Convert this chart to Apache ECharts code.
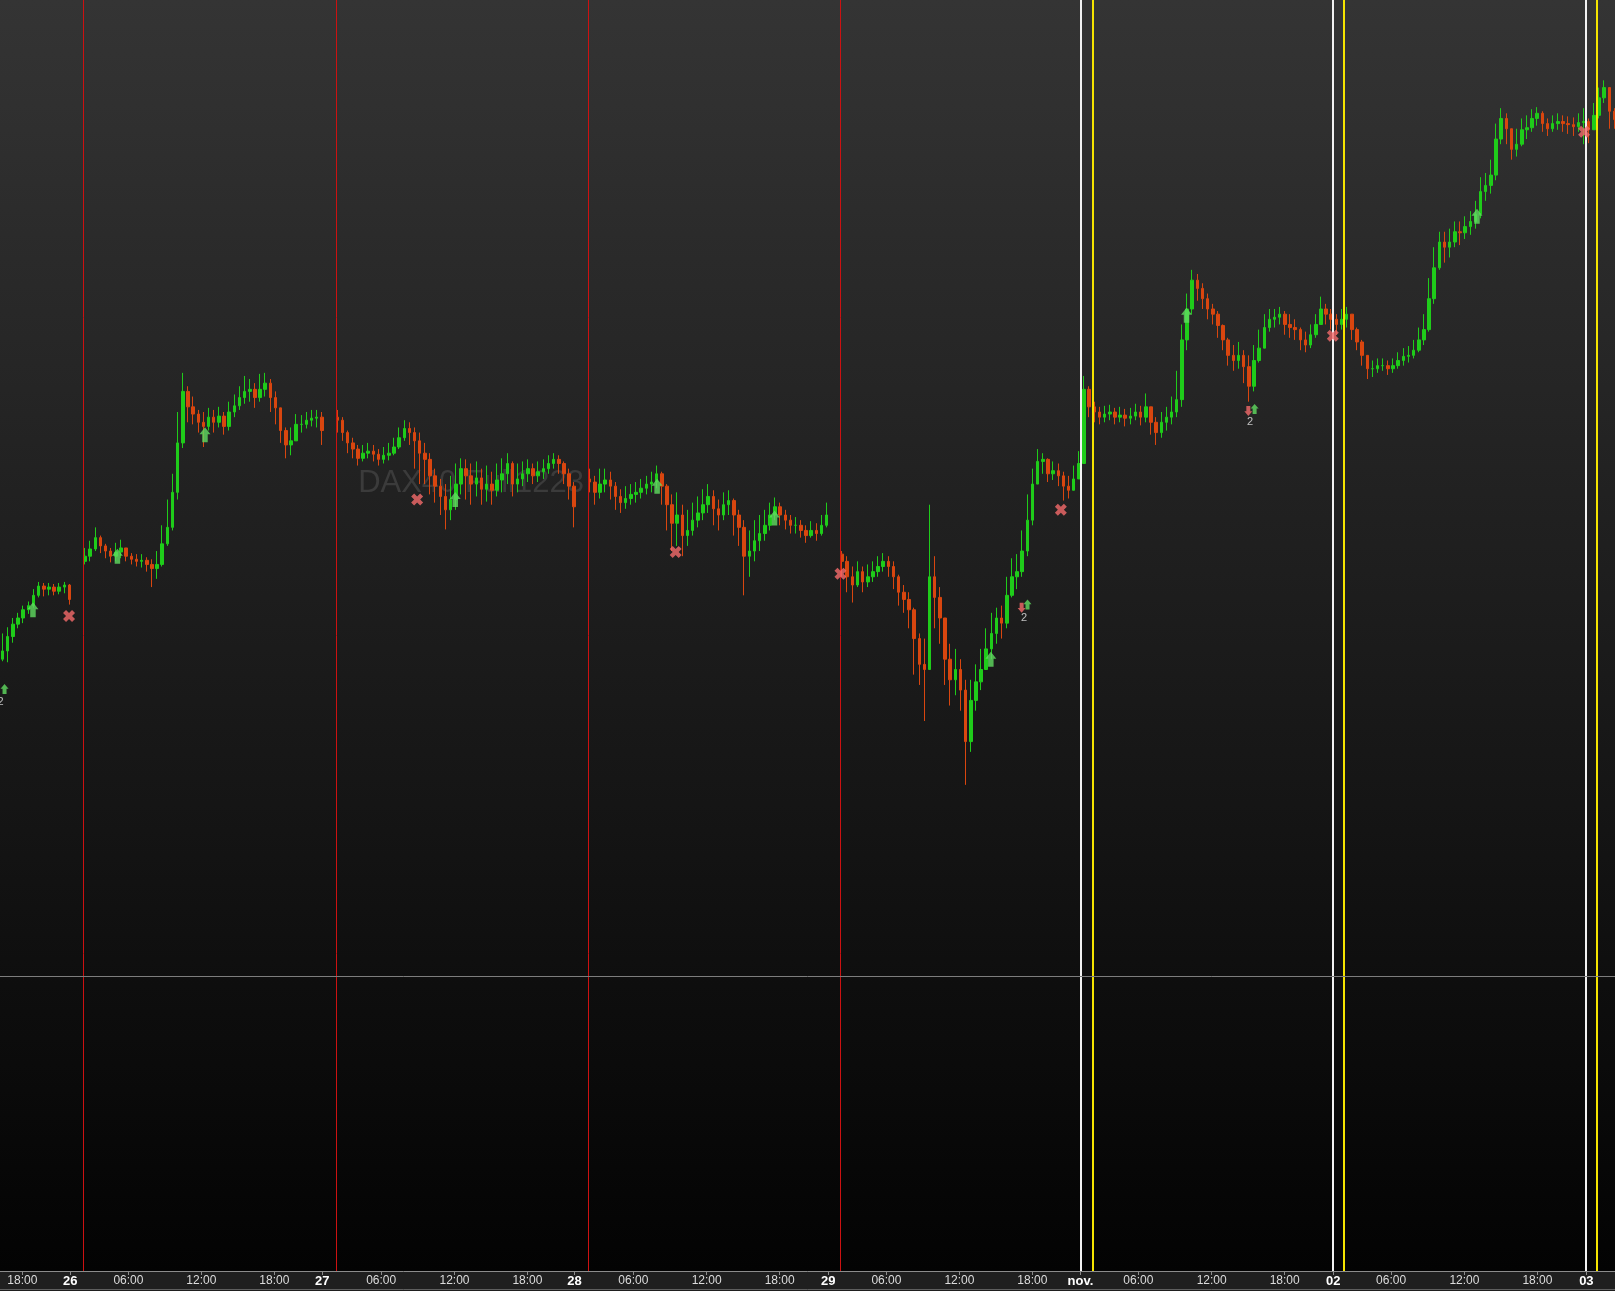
<!DOCTYPE html>
<html><head><meta charset="utf-8">
<script src="https://cdn.jsdelivr.net/npm/echarts@6/dist/echarts.min.js"></script>
<style>html,body{margin:0;padding:0;background:#000;}#c{width:1615px;height:1291px;}</style>
</head><body><div id="c"></div>
<script>
// ---- x axis: slot units (0..1568), each candle spans 5 slots ----
const slotWidth = 5;
const xMax = 1568;
const tickPos = [21.7, 68.2, 124.7, 195.5, 266.4, 312.9, 370.1, 441.3, 512.1, 557.7, 614.9, 686.1, 757, 804.1, 860.6, 931.5, 1002.3, 1049, 1105.2, 1176.4, 1247.3, 1294.5, 1350.6, 1421.8, 1492.7, 1540.2];
const tickLabels = ['18:00','26','06:00','12:00','18:00','27','06:00','12:00','18:00','28','06:00','12:00','18:00','29','06:00','12:00','18:00','nov.','06:00','12:00','18:00','02','06:00','12:00','18:00','03'];
const dayLabels = ['26','27','28','29','nov.','02','03'];

// ---- prices (open of each candle = previous close, except session opens) ----
const firstOpen = 15360;
const sessionOpens = [[16, 15455], [65, 15595], [114, 15535], [163, 15462]];
const close = [
 15368,15382,15394,15400,15408,15412,15422,15431,15428,15430,15426,15430,15432,15418,
 null,null,
 15460,15467,15478,15470,15465,15460,15464,15468,15460,15457,15455,15456,15452,15448,15452,15472,15488,15522,15570,15620,15605,15598,15590,15586,15595,15590,15596,15586,15600,15606,15614,15620,15622,15614,15622,15628,15614,15604,15582,15568,15572,15588,15588,15592,15594,15595,15582,
 null,null,
 15592,15580,15570,15564,15555,15560,15562,15559,15554,15558,15560,15566,15575,15584,15580,15572,15560,15554,15538,15528,15518,15505,15515,15530,15545,15538,15530,15536,15525,15530,15524,15534,15540,15550,15530,15535,15540,15545,15538,15542,15545,15550,15554,15550,15540,15528,15508,
 null,null,
 15532,15522,15530,15534,15528,15518,15512,15516,15520,15522,15526,15530,15532,15540,15528,15510,15492,15500,15480,15485,15495,15502,15510,15518,15506,15500,15510,15514,15500,15488,15460,15465,15475,15482,15490,15500,15508,15500,15495,15490,15490,15485,15480,15485,15482,15490,15500,
 null,null,
 15455,15440,15432,15445,15435,15440,15445,15450,15455,15450,15440,15425,15418,15408,15380,15355,15350,15440,15420,15400,15360,15340,15350,15330,15280,15320,15338,15350,15370,15385,15400,15395,15422,15440,15445,15465,15495,15530,15552,15554,15540,15543,15538,15528,15524,15535,15550,
 15622,15605,15600,15595,15598,15600,15595,15597,15594,15596,15600,15595,15605,15590,15580,15590,15595,15600,15612,15670,15700,15728,15720,15710,15700,15695,15684,15670,15655,15650,15655,15644,15625,15650,15662,15682,15690,15692,15695,15685,15682,15680,15670,15665,15675,15685,15700,15695,15690,
 15685,15690,15695,15680,15668,15655,15642,15642,15645,15645,15642,15645,15650,15654,15655,15660,15670,15680,15710,15740,15765,15760,15765,15775,15774,15780,15785,15792,15814,15820,15830,15865,15885,15875,15855,15860,15874,15876,15885,15890,15880,15875,15880,15882,15880,15879,15877,15881,15882,
 15874,15888,15905,15915,15892,15884
];
const high = [
 15385,15391,15400,15405,15412,15416,15428,15435,15434,15434,15433,15434,15435,15433,
 null,null,
 15468,15475,15488,15480,15472,15468,15473,15476,15468,15463,15462,15462,15459,15457,15465,15490,15515,15540,15600,15638,15625,15615,15602,15600,15604,15602,15605,15600,15610,15617,15625,15635,15632,15628,15637,15638,15632,15620,15602,15585,15585,15598,15597,15600,15602,15602,15600,
 null,null,
 15602,15595,15582,15575,15568,15568,15570,15568,15564,15566,15570,15575,15585,15592,15590,15585,15580,15570,15560,15545,15535,15530,15538,15550,15555,15554,15550,15552,15545,15548,15542,15550,15555,15560,15552,15550,15552,15554,15550,15552,15554,15558,15560,15558,15552,15545,15532,
 null,null,
 15545,15538,15545,15545,15542,15532,15525,15528,15530,15532,15535,15538,15542,15548,15542,15530,15520,15522,15510,15505,15512,15518,15525,15530,15524,15515,15522,15524,15516,15505,15495,15485,15495,15500,15505,15512,15517,15512,15505,15500,15498,15495,15490,15494,15492,15500,15512,
 null,null,
 15465,15460,15450,15455,15450,15452,15455,15460,15463,15460,15455,15442,15432,15425,15410,15385,15380,15510,15460,15430,15400,15375,15370,15360,15340,15340,15355,15370,15390,15405,15410,15412,15440,15458,15462,15485,15520,15545,15564,15560,15555,15552,15550,15542,15538,15548,15562,
 15635,15625,15610,15605,15606,15607,15604,15605,15603,15604,15608,15606,15618,15605,15595,15600,15605,15615,15640,15685,15715,15738,15734,15725,15715,15705,15698,15685,15672,15665,15668,15660,15655,15665,15680,15695,15700,15700,15702,15698,15695,15690,15682,15678,15685,15695,15712,15705,15700,
 15695,15700,15702,15695,15682,15670,15655,15650,15652,15652,15650,15652,15658,15662,15664,15670,15682,15695,15730,15760,15775,15775,15778,15785,15785,15790,15795,15805,15828,15832,15845,15880,15895,15890,15875,15875,15885,15888,15894,15896,15892,15885,15888,15890,15888,15887,15886,15890,15895,
 15885,15900,15915,15922,15912,15895
];
const low = [
 15358,15357,15376,15390,15395,15404,15410,15420,15421,15422,15422,15423,15424,15413,
 null,null,
 15452,15455,15465,15463,15458,15454,15455,15458,15455,15452,15450,15449,15445,15430,15438,15450,15470,15485,15515,15565,15590,15588,15580,15566,15582,15580,15585,15578,15582,15595,15602,15608,15610,15604,15610,15615,15600,15588,15570,15555,15558,15572,15580,15584,15586,15585,15568,
 null,null,
 15580,15572,15560,15555,15548,15552,15555,15552,15548,15550,15553,15558,15564,15572,15568,15545,15530,15530,15520,15512,15500,15486,15495,15505,15520,15515,15510,15518,15510,15513,15510,15518,15522,15530,15518,15522,15528,15532,15530,15532,15535,15540,15545,15540,15530,15515,15488,
 null,null,
 15522,15510,15516,15522,15515,15505,15502,15506,15510,15512,15516,15520,15522,15526,15510,15485,15465,15470,15460,15470,15480,15488,15495,15502,15490,15485,15495,15500,15480,15470,15422,15440,15455,15465,15475,15485,15495,15490,15486,15482,15482,15478,15473,15478,15475,15480,15488,
 null,null,
 15440,15425,15415,15430,15425,15430,15435,15440,15445,15440,15428,15412,15405,15390,15345,15335,15300,15380,15390,15375,15335,15315,15325,15310,15238,15270,15310,15330,15350,15360,15375,15380,15390,15420,15428,15440,15460,15490,15530,15540,15532,15534,15528,15514,15516,15524,15538,
 15560,15595,15590,15588,15590,15592,15588,15590,15586,15588,15592,15587,15590,15578,15568,15575,15582,15588,15595,15605,15660,15695,15708,15700,15690,15685,15672,15660,15645,15640,15642,15628,15610,15620,15648,15665,15678,15682,15685,15675,15672,15670,15660,15658,15662,15672,15685,15685,15680,
 15675,15680,15682,15670,15660,15645,15632,15634,15638,15640,15636,15638,15642,15645,15648,15652,15658,15665,15678,15705,15738,15745,15750,15760,15762,15768,15772,15778,15788,15805,15812,15825,15860,15860,15845,15848,15858,15865,15872,15878,15872,15868,15872,15874,15872,15870,15868,15872,15860,
 15861,15875,15885,15900,15875,15875
];

// ---- vertical session lines / horizontal level ----
const redLines = [81.0, 326.0, 571.1, 816.1];
const whiteLines = [1049.0, 1294.3, 1540.0];
const yellowLines = [1060.5, 1305.0, 1550.5];
const levelLine = 15052;

// ---- trade markers [slot, price] ----
const buyArrows = [[32,15408],[114,15460],[199,15578],[442,15515],[638,15528],[752,15497],[962,15360],[1152,15694],[1434,15790]];
const exitCrosses = [[67,15402],[405,15515],[656,15464],[816,15443],[1030,15505],[1294,15674],[1538,15872]];
const smallBuy = [[4.4,15331],[997.6,15413],[1218.1,15603]];
const smallSell = [[-2.2,15328],[991.9,15410],[1212,15601]];
const countLabels = [[0.6,15318,'2'],[994.2,15400,'2'],[1213.8,15590,'2']];

const watermark = 'DAX40 Full1223';

// ---- build candles ----
const openAt = {};
sessionOpens.forEach(s => { openAt[s[0]] = s[1]; });
const candles = [];
let prev = firstOpen;
for (let k = 0; k < close.length; k++) {
  if (close[k] == null) continue;
  const o = (openAt[k] != null) ? openAt[k] : prev, c = close[k];
  const h = Math.max(high[k], o, c), l = Math.min(low[k], o, c);
  candles.push([k * slotWidth + slotWidth / 2, o, c, l, h]);
  prev = c;
}

const FONT = '"Liberation Sans", Arial, sans-serif';
const upArrow = 'path://M6,0L12,7L9,7L9,15L3,15L3,7L0,7Z';
const downArrow = 'path://M3,0L9,0L9,8L12,8L6,15L0,8L3,8Z';
const cross = 'path://M0,3L3,0L6,3L9,0L12,3L9,6L12,9L9,12L6,9L3,12L0,9L3,6Z';

const mk = [];
redLines.forEach(v => mk.push({xAxis: v, lineStyle: {color: '#cc1111', width: 1, type: 'solid'}}));
whiteLines.forEach(v => mk.push({xAxis: v, lineStyle: {color: '#f2f2f2', width: 2, type: 'solid'}}));
yellowLines.forEach(v => mk.push({xAxis: v, lineStyle: {color: '#f5e400', width: 2, type: 'solid'}}));
mk.push({yAxis: levelLine, lineStyle: {color: '#7d7d7d', width: 1, type: 'solid'}});

const chart = echarts.init(document.getElementById('c'), null, {renderer: 'canvas'});
chart.setOption({
  animation: false,
  backgroundColor: {type: 'linear', x: 0, y: 0, x2: 0, y2: 1, colorStops: [
    {offset: 0, color: '#343434'},
    {offset: 0.9845, color: '#030303'},
    {offset: 0.9846, color: '#1f1f1f'},
    {offset: 1, color: '#1f1f1f'}
  ]},
  textStyle: {fontFamily: FONT},
  grid: {left: 0, right: 0, top: 0, bottom: 20, outerBoundsMode: 'none', containLabel: false},
  graphic: [
    {type: 'text', x: 471, y: 483, silent: true, z: 0,
     style: {text: watermark, fill: '#3b3b3b', font: '31px ' + FONT, align: 'center', verticalAlign: 'middle'}},
    {type: 'line', silent: true, z: 10, shape: {x1: 0, y1: 1289.5, x2: 1615, y2: 1289.5}, style: {stroke: '#5e5e5e', lineWidth: 1}}
  ],
  xAxis: {
    type: 'value', min: 0, max: xMax,
    splitLine: {show: false},
    axisLine: {show: true, lineStyle: {color: '#8c8c8c', width: 1}},
    axisTick: {show: true, customValues: tickPos, length: 4, lineStyle: {color: '#8c8c8c'}},
    axisLabel: {
      customValues: tickPos, margin: 4,
      formatter: function (v) {
        let idx = 0, best = 1e9;
        tickPos.forEach((p, i) => { const d = Math.abs(p - v); if (d < best) { best = d; idx = i; } });
        const t = tickLabels[idx];
        return dayLabels.indexOf(t) >= 0 ? '{d|' + t + '}' : '{t|' + t + '}';
      },
      rich: {
        d: {fontWeight: 'bold', fontSize: 13, color: '#ffffff', fontFamily: FONT},
        t: {fontSize: 12, color: '#dcdcdc', fontFamily: FONT}
      }
    }
  },
  yAxis: {type: 'value', min: 14766, max: 16000, show: false, splitLine: {show: false}},
  series: [
    {
      type: 'candlestick', data: candles, encode: {x: 0, y: [1, 2, 3, 4]},
      barWidth: 3, silent: true, z: 3,
      itemStyle: {color: '#1fcc1a', color0: '#d9460f', borderColor: '#1fcc1a', borderColor0: '#d9460f', borderWidth: 1},
      markLine: {silent: true, symbol: ['none', 'none'], label: {show: false}, animation: false, data: mk}
    },
    {type: 'scatter', data: buyArrows, symbol: upArrow, symbolSize: [11, 15], silent: true, z: 5,
     itemStyle: {color: '#60dc60'}},
    {type: 'scatter', data: exitCrosses, symbol: cross, symbolSize: [12, 12], silent: true, z: 5,
     itemStyle: {color: '#f46a6a'}},
    {type: 'scatter', data: smallBuy, symbol: upArrow, symbolSize: [8, 10], silent: true, z: 5,
     itemStyle: {color: '#60dc60'}},
    {type: 'scatter', data: smallSell, symbol: downArrow, symbolSize: [8, 10], silent: true, z: 5,
     itemStyle: {color: '#f46a6a'}},
    {type: 'scatter', data: countLabels.map(d => [d[0], d[1]]), symbolSize: 1, silent: true, z: 5, clip: false,
     itemStyle: {color: 'transparent'},
     label: {show: true, position: 'inside', formatter: p => countLabels[p.dataIndex][2], color: '#e6e6e6', fontSize: 11, fontFamily: FONT}}
  ]
});
</script></body></html>
